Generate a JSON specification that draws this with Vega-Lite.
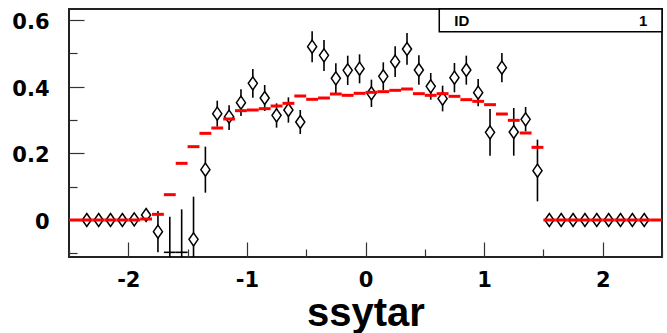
{
  "$schema": "https://vega.github.io/schema/vega-lite/v6.json",
  "width": 593,
  "height": 248,
  "autosize": {"type": "none"},
  "padding": {"left": 69, "top": 9, "right": 5, "bottom": 76},
  "background": "white",
  "config": {
    "view": {"stroke": "#222", "strokeWidth": 2},
    "font": "Liberation Sans",
    "axisX": {
      "orient": "bottom",
      "values": [-2.4, -2.2, -2, -1.8, -1.6, -1.4, -1.2, -1, -0.8, -0.6, -0.4, -0.2, 0, 0.2, 0.4, 0.6, 0.8, 1, 1.2, 1.4, 1.6, 1.8, 2, 2.2, 2.4],
      "domain": false, "grid": false,
      "tickColor": "#333", "tickWidth": 1.2,
      "tickSize": {"condition": {"test": "indexof([-2,-1,0,1,2], datum.value) >= 0", "value": -15}, "value": -8},
      "labelExpr": "indexof([-2,-1,0,1,2], datum.value) >= 0 ? '' + datum.value : ''",
      "labelFont": "DejaVu Sans", "labelFontSize": 21, "labelFontWeight": "bold", "labelColor": "black",
      "labelPadding": 27, "labelFlush": false, "labelOverlap": false,
      "titleFont": "Liberation Sans", "titleFontSize": 40, "titleFontWeight": "bold", "titleColor": "black",
      "titleBaseline": "alphabetic", "titleY": 68
    },
    "axisY": {
      "orient": "left",
      "values": [-0.1, -0.05, 0, 0.05, 0.1, 0.15, 0.2, 0.25, 0.3, 0.35, 0.4, 0.45, 0.5, 0.55, 0.6],
      "domain": false, "grid": false,
      "tickColor": "#333", "tickWidth": 1.2,
      "tickSize": {"condition": {"test": "indexof([0,0.2,0.4,0.6], datum.value) >= 0", "value": -15}, "value": -8},
      "labelExpr": "indexof([0,0.2,0.4,0.6], datum.value) >= 0 ? '' + datum.value : ''",
      "labelFont": "DejaVu Sans", "labelFontSize": 21, "labelFontWeight": "bold", "labelColor": "black",
      "labelPadding": 35, "labelFlush": false, "labelOverlap": false, "labelBaseline": "middle", "labelOffset": 2.5
    }
  },
  "data": {
    "values": [
      {"x": -2.45, "x0": -2.5, "x1": -2.4, "fit": 0, "y": null, "ylo": null, "yhi": null},
      {"x": -2.35, "x0": -2.4, "x1": -2.3, "fit": 0, "y": 0, "ylo": 0, "yhi": 0},
      {"x": -2.25, "x0": -2.3, "x1": -2.2, "fit": 0, "y": 0, "ylo": 0, "yhi": 0},
      {"x": -2.15, "x0": -2.2, "x1": -2.1, "fit": 0, "y": 0, "ylo": 0, "yhi": 0},
      {"x": -2.05, "x0": -2.1, "x1": -2.0, "fit": 0, "y": 0, "ylo": 0, "yhi": 0},
      {"x": -1.95, "x0": -2.0, "x1": -1.9, "fit": 0, "y": 0.002, "ylo": 0.002, "yhi": 0.002},
      {"x": -1.85, "x0": -1.9, "x1": -1.8, "fit": 0.003, "y": 0.015, "ylo": 0.0, "yhi": 0.03},
      {"x": -1.75, "x0": -1.8, "x1": -1.7, "fit": 0.017, "y": -0.035, "ylo": -0.097, "yhi": 0.027},
      {"x": -1.65, "x0": -1.7, "x1": -1.6, "fit": 0.076, "y": -0.097, "ylo": -0.2, "yhi": 0.01},
      {"x": -1.55, "x0": -1.6, "x1": -1.5, "fit": 0.17, "y": -0.097, "ylo": -0.2, "yhi": 0.032},
      {"x": -1.45, "x0": -1.5, "x1": -1.4, "fit": 0.22, "y": -0.058, "ylo": -0.2, "yhi": 0.07},
      {"x": -1.35, "x0": -1.4, "x1": -1.3, "fit": 0.26, "y": 0.151, "ylo": 0.082, "yhi": 0.22},
      {"x": -1.25, "x0": -1.3, "x1": -1.2, "fit": 0.276, "y": 0.319, "ylo": 0.28, "yhi": 0.358},
      {"x": -1.15, "x0": -1.2, "x1": -1.1, "fit": 0.303, "y": 0.31, "ylo": 0.27, "yhi": 0.344},
      {"x": -1.05, "x0": -1.1, "x1": -1.0, "fit": 0.328, "y": 0.352, "ylo": 0.312, "yhi": 0.392},
      {"x": -0.95, "x0": -1.0, "x1": -0.9, "fit": 0.33, "y": 0.41, "ylo": 0.367, "yhi": 0.453},
      {"x": -0.85, "x0": -0.9, "x1": -0.8, "fit": 0.334, "y": 0.366, "ylo": 0.327, "yhi": 0.405},
      {"x": -0.75, "x0": -0.8, "x1": -0.7, "fit": 0.342, "y": 0.314, "ylo": 0.277, "yhi": 0.35},
      {"x": -0.65, "x0": -0.7, "x1": -0.6, "fit": 0.35, "y": 0.33, "ylo": 0.292, "yhi": 0.368},
      {"x": -0.55, "x0": -0.6, "x1": -0.5, "fit": 0.372, "y": 0.294, "ylo": 0.258, "yhi": 0.33},
      {"x": -0.45, "x0": -0.5, "x1": -0.4, "fit": 0.362, "y": 0.52, "ylo": 0.473, "yhi": 0.566},
      {"x": -0.35, "x0": -0.4, "x1": -0.3, "fit": 0.366, "y": 0.494, "ylo": 0.447, "yhi": 0.54},
      {"x": -0.25, "x0": -0.3, "x1": -0.2, "fit": 0.378, "y": 0.425, "ylo": 0.38, "yhi": 0.47},
      {"x": -0.15, "x0": -0.2, "x1": -0.1, "fit": 0.374, "y": 0.449, "ylo": 0.405, "yhi": 0.493},
      {"x": -0.05, "x0": -0.1, "x1": 0.0, "fit": 0.38, "y": 0.454, "ylo": 0.41, "yhi": 0.497},
      {"x": 0.05, "x0": 0.0, "x1": 0.1, "fit": 0.383, "y": 0.38, "ylo": 0.339, "yhi": 0.421},
      {"x": 0.15, "x0": 0.1, "x1": 0.2, "fit": 0.385, "y": 0.431, "ylo": 0.389, "yhi": 0.473},
      {"x": 0.25, "x0": 0.2, "x1": 0.3, "fit": 0.389, "y": 0.475, "ylo": 0.429, "yhi": 0.521},
      {"x": 0.35, "x0": 0.3, "x1": 0.4, "fit": 0.393, "y": 0.513, "ylo": 0.466, "yhi": 0.561},
      {"x": 0.45, "x0": 0.4, "x1": 0.5, "fit": 0.379, "y": 0.45, "ylo": 0.406, "yhi": 0.494},
      {"x": 0.55, "x0": 0.5, "x1": 0.6, "fit": 0.374, "y": 0.401, "ylo": 0.361, "yhi": 0.441},
      {"x": 0.65, "x0": 0.6, "x1": 0.7, "fit": 0.379, "y": 0.364, "ylo": 0.326, "yhi": 0.403},
      {"x": 0.75, "x0": 0.7, "x1": 0.8, "fit": 0.371, "y": 0.427, "ylo": 0.383, "yhi": 0.471},
      {"x": 0.85, "x0": 0.8, "x1": 0.9, "fit": 0.361, "y": 0.45, "ylo": 0.406, "yhi": 0.493},
      {"x": 0.95, "x0": 0.9, "x1": 1.0, "fit": 0.356, "y": 0.382, "ylo": 0.341, "yhi": 0.423},
      {"x": 1.05, "x0": 1.0, "x1": 1.1, "fit": 0.346, "y": 0.263, "ylo": 0.193, "yhi": 0.333},
      {"x": 1.15, "x0": 1.1, "x1": 1.2, "fit": 0.318, "y": 0.457, "ylo": 0.413, "yhi": 0.501},
      {"x": 1.25, "x0": 1.2, "x1": 1.3, "fit": 0.299, "y": 0.264, "ylo": 0.193, "yhi": 0.336},
      {"x": 1.35, "x0": 1.3, "x1": 1.4, "fit": 0.261, "y": 0.302, "ylo": 0.266, "yhi": 0.339},
      {"x": 1.45, "x0": 1.4, "x1": 1.5, "fit": 0.218, "y": 0.148, "ylo": 0.056, "yhi": 0.241},
      {"x": 1.55, "x0": 1.5, "x1": 1.6, "fit": 0, "y": 0, "ylo": 0, "yhi": 0},
      {"x": 1.65, "x0": 1.6, "x1": 1.7, "fit": 0, "y": 0, "ylo": 0, "yhi": 0},
      {"x": 1.75, "x0": 1.7, "x1": 1.8, "fit": 0, "y": 0, "ylo": 0, "yhi": 0},
      {"x": 1.85, "x0": 1.8, "x1": 1.9, "fit": 0, "y": 0, "ylo": 0, "yhi": 0},
      {"x": 1.95, "x0": 1.9, "x1": 2.0, "fit": 0, "y": 0, "ylo": 0, "yhi": 0},
      {"x": 2.05, "x0": 2.0, "x1": 2.1, "fit": 0, "y": 0, "ylo": 0, "yhi": 0},
      {"x": 2.15, "x0": 2.1, "x1": 2.2, "fit": 0, "y": 0, "ylo": 0, "yhi": 0},
      {"x": 2.25, "x0": 2.2, "x1": 2.3, "fit": 0, "y": 0, "ylo": 0, "yhi": 0},
      {"x": 2.35, "x0": 2.3, "x1": 2.4, "fit": 0, "y": 0, "ylo": 0, "yhi": 0},
      {"x": 2.45, "x0": 2.4, "x1": 2.5, "fit": 0, "y": null, "ylo": null, "yhi": null}
    ]
  },
  "layer": [
    {
      "transform": [{"filter": "datum.y != null"}],
      "mark": {"type": "rule", "color": "black", "strokeWidth": 1.6, "clip": true},
      "encoding": {
        "x": {"field": "x", "type": "quantitative", "scale": {"domain": [-2.5, 2.5], "nice": false, "zero": false}, "title": "ssytar"},
        "y": {"field": "ylo", "type": "quantitative", "scale": {"domain": [-0.111, 0.633], "nice": false, "zero": false}, "title": null},
        "y2": {"field": "yhi"}
      }
    },
    {
      "transform": [{"filter": "datum.y != null && datum.y < -0.09"}],
      "mark": {"type": "rule", "color": "black", "strokeWidth": 1.6, "clip": true},
      "encoding": {
        "x": {"field": "x0", "type": "quantitative", "scale": {"domain": [-2.5, 2.5], "nice": false, "zero": false}, "title": "ssytar"},
        "x2": {"field": "x1"},
        "y": {"field": "y", "type": "quantitative", "scale": {"domain": [-0.111, 0.633], "nice": false, "zero": false}, "title": null}
      }
    },
    {
      "transform": [{"filter": "datum.y != null && datum.y > -0.09"}],
      "mark": {"type": "point", "shape": "M0,-1L0.7,0L0,1L-0.7,0Z", "size": 169, "fill": "white", "stroke": "black", "strokeWidth": 1.5, "fillOpacity": 1, "strokeOpacity": 1, "opacity": 1, "clip": true},
      "encoding": {
        "x": {"field": "x", "type": "quantitative", "scale": {"domain": [-2.5, 2.5], "nice": false, "zero": false}, "title": "ssytar"},
        "y": {"field": "y", "type": "quantitative", "scale": {"domain": [-0.111, 0.633], "nice": false, "zero": false}, "title": null}
      }
    },
    {
      "mark": {"type": "rule", "color": "#ff0000", "strokeWidth": 3, "clip": true},
      "encoding": {
        "x": {"field": "x0", "type": "quantitative", "scale": {"domain": [-2.5, 2.5], "nice": false, "zero": false}, "title": "ssytar"},
        "x2": {"field": "x1"},
        "y": {"field": "fit", "type": "quantitative", "scale": {"domain": [-0.111, 0.633], "nice": false, "zero": false}, "title": null}
      }
    },
    {
      "data": {"values": [{"label": "ID", "value": "1"}]},
      "mark": {"type": "rect", "fill": "white", "stroke": "black", "strokeWidth": 1.5},
      "encoding": {
        "x": {"datum": 0.622, "type": "quantitative", "scale": {"domain": [-2.5, 2.5], "nice": false, "zero": false}, "title": "ssytar"},
        "x2": {"datum": 2.5},
        "y": {"datum": 0.633, "type": "quantitative", "scale": {"domain": [-0.111, 0.633], "nice": false, "zero": false}, "title": null},
        "y2": {"datum": 0.565}
      }
    },
    {
      "data": {"values": [{"label": "ID", "value": "1"}]},
      "mark": {"type": "text", "align": "left", "baseline": "middle", "font": "Liberation Sans", "fontSize": 15, "fontWeight": "bold", "color": "black"},
      "encoding": {
        "x": {"datum": 0.749, "type": "quantitative", "scale": {"domain": [-2.5, 2.5], "nice": false, "zero": false}, "title": "ssytar"},
        "y": {"datum": 0.598, "type": "quantitative", "scale": {"domain": [-0.111, 0.633], "nice": false, "zero": false}, "title": null},
        "text": {"field": "label"}
      }
    },
    {
      "data": {"values": [{"label": "ID", "value": "1"}]},
      "mark": {"type": "text", "align": "right", "baseline": "middle", "font": "Liberation Sans", "fontSize": 15, "fontWeight": "bold", "color": "black"},
      "encoding": {
        "x": {"datum": 2.376, "type": "quantitative", "scale": {"domain": [-2.5, 2.5], "nice": false, "zero": false}, "title": "ssytar"},
        "y": {"datum": 0.598, "type": "quantitative", "scale": {"domain": [-0.111, 0.633], "nice": false, "zero": false}, "title": null},
        "text": {"field": "value"}
      }
    }
  ]
}
